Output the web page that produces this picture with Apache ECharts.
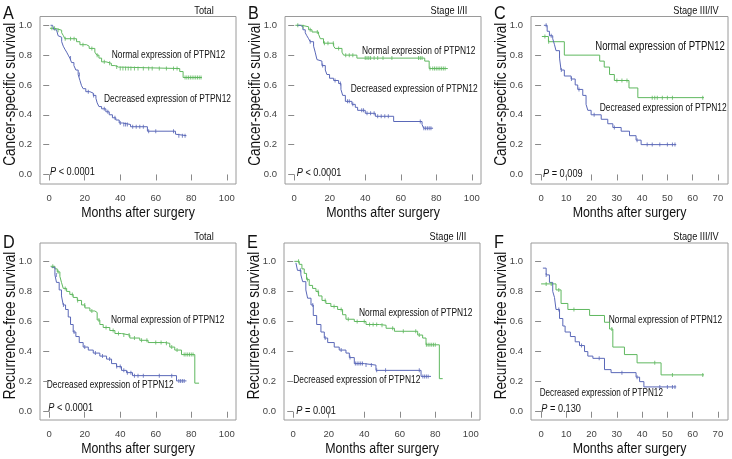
<!DOCTYPE html>
<html><head><meta charset="utf-8">
<script src="https://cdn.jsdelivr.net/npm/echarts@6/dist/echarts.min.js"></script>
<style>html,body{margin:0;padding:0;background:#fff}#c{width:732px;height:459px}</style>
</head><body><div id="c"></div>
<script>
// ---------- tick values ----------
const yTicks = [0, 0.2, 0.4, 0.6, 0.8, 1.0];
const xTicks100 = [0, 20, 40, 60, 80, 100];
const xTicks70 = [0, 10, 20, 30, 40, 50, 60, 70];

// ---------- labels ----------
const panelLetters = ['A', 'B', 'C', 'D', 'E', 'F'];
const panelTitles = ['Total', 'Stage I/II', 'Stage III/IV', 'Total', 'Stage I/II', 'Stage III/IV'];
const pValues = ['< 0.0001', '< 0.0001', '= 0.009', '< 0.0001', '= 0.001', '= 0.130'];
const yTitles = ['Cancer-specific survival', 'Cancer-specific survival', 'Cancer-specific survival',
  'Recurrence-free survival', 'Recurrence-free survival', 'Recurrence-free survival'];
const xTitle = 'Months after surgery';
const normalLabel = 'Normal expression of PTPN12';
const decreasedLabel = 'Decreased expression of PTPN12';

// ---------- survival steps [month, survival] ----------
const aNormal = [[0.4,0.98],[3.2,0.967],[7,0.95],[8,0.93],[8.8,0.91],[15.4,0.89],[17.3,0.87],[21,0.86],[22.5,0.845],[25.7,0.82],[26.8,0.80],[28,0.78],[29.5,0.755],[32,0.745],[35,0.73],[37,0.72],[39,0.71],[73.5,0.69],[75.4,0.65],[86,0.65]];
const aDecreased = [[0.75,1.0],[1.9,0.99],[2.6,0.97],[4.1,0.96],[5,0.93],[6,0.92],[7,0.89],[7.9,0.86],[8.8,0.84],[9.8,0.82],[10.7,0.80],[11.6,0.78],[12.6,0.75],[13.9,0.73],[15,0.70],[16.3,0.67],[17.3,0.63],[18.2,0.595],[19.1,0.575],[20.6,0.555],[22.9,0.545],[24.8,0.53],[26.3,0.51],[27,0.48],[28,0.455],[29.5,0.44],[31.9,0.42],[33.8,0.40],[35.6,0.38],[37.5,0.365],[39.4,0.345],[41.3,0.335],[45.8,0.32],[55.3,0.29],[71.1,0.27],[71.7,0.26],[77.3,0.26]];
const bNormal = [[0.6,1.0],[4.3,0.99],[8.1,0.97],[10,0.955],[13.7,0.94],[14.7,0.91],[16.5,0.88],[22.2,0.86],[23,0.845],[26.9,0.82],[27.8,0.80],[35.3,0.78],[73.5,0.76],[76,0.71],[86.5,0.71]];
const bDecreased = [[1.5,1.0],[3.4,0.99],[4.9,0.97],[6.2,0.95],[7.1,0.93],[8.1,0.91],[9,0.89],[10.9,0.86],[11.8,0.82],[12.8,0.77],[13.7,0.76],[15.6,0.73],[17.5,0.70],[18.4,0.67],[19.9,0.645],[22.2,0.63],[25,0.61],[26.3,0.57],[27.3,0.53],[28.8,0.49],[32.5,0.47],[34.4,0.45],[35.7,0.43],[40,0.41],[45.7,0.39],[56,0.355],[72,0.335],[72.9,0.31],[78.2,0.31]];
const cNormal = [[0.3,0.925],[2.9,0.89],[9.2,0.80],[23.2,0.76],[25,0.72],[27.1,0.67],[29,0.63],[34.8,0.58],[38.3,0.515],[64.5,0.515]];
const cDecreased = [[1.1,1.0],[2.4,0.96],[3.3,0.93],[4.6,0.91],[5.3,0.87],[5.9,0.83],[7.3,0.78],[7.9,0.70],[9.2,0.66],[11.9,0.64],[13.5,0.60],[14.5,0.57],[16.5,0.53],[17.8,0.47],[18.5,0.43],[19.8,0.40],[23.8,0.37],[26.4,0.34],[28.4,0.315],[31.7,0.29],[35,0.26],[37.6,0.23],[39.6,0.20],[53.5,0.20]];
const dNormal = [[0.75,0.967],[3.2,0.95],[4.5,0.93],[6,0.90],[6.9,0.86],[7.9,0.82],[9.8,0.80],[11.6,0.78],[13.5,0.76],[15.8,0.74],[18.2,0.71],[20.1,0.69],[22.9,0.67],[25.7,0.66],[27,0.61],[28.5,0.58],[30.4,0.56],[34.1,0.54],[37,0.52],[40.7,0.51],[45.4,0.49],[51,0.475],[55.7,0.46],[65.1,0.455],[67.9,0.43],[70.7,0.41],[74.5,0.38],[82,0.19],[84.4,0.19]];
const dDecreased = [[1.3,0.96],[3.2,0.91],[4.1,0.86],[5.6,0.81],[6.9,0.77],[7.9,0.71],[9.2,0.68],[10.7,0.63],[12,0.58],[13.5,0.53],[15,0.50],[16.9,0.46],[19.1,0.43],[22,0.41],[24.8,0.39],[28.5,0.37],[32.3,0.35],[35.1,0.32],[37.9,0.30],[40.7,0.275],[43.5,0.26],[46.9,0.24],[71.7,0.205],[77.3,0.205]];
const eNormal = [[0.6,1.0],[3.4,0.98],[4.9,0.95],[6.2,0.92],[7.5,0.88],[9,0.84],[10.9,0.82],[12.8,0.80],[14.3,0.77],[16.2,0.74],[18.4,0.72],[21.2,0.70],[25,0.68],[27.8,0.645],[29.7,0.615],[34.4,0.60],[41,0.58],[48.5,0.575],[52.3,0.555],[57,0.535],[70.1,0.51],[72.9,0.49],[74.8,0.445],[82.3,0.22],[84.2,0.22]];
const eDecreased = [[1.5,0.99],[2.4,0.94],[4.3,0.91],[5.3,0.865],[7.1,0.81],[8.1,0.755],[10,0.71],[11.3,0.64],[13.2,0.58],[15.6,0.53],[17.5,0.49],[19.4,0.46],[23.1,0.43],[25.9,0.41],[29.7,0.39],[31.6,0.36],[34.4,0.32],[40,0.31],[46.6,0.275],[72,0.235],[77.6,0.235]];
const fNormal = [[0,0.85],[5.9,0.81],[7.9,0.72],[10.6,0.68],[19.2,0.64],[25.1,0.595],[27.1,0.55],[28.4,0.43],[33,0.38],[38,0.325],[47.5,0.245],[64.5,0.245]];
const fDecreased = [[0.7,0.955],[2,0.91],[3.3,0.86],[4.6,0.80],[5.3,0.76],[5.9,0.68],[7.3,0.62],[8.6,0.57],[9.5,0.53],[11.6,0.50],[13.5,0.465],[15.2,0.44],[17.2,0.40],[18.5,0.37],[20.5,0.355],[25.1,0.28],[27.7,0.26],[37.6,0.23],[39,0.20],[40.7,0.165],[53.5,0.165]];

// ---------- censoring times (months) ----------
const aNormalCensor = [1.5,3,5,9,12,14,19,24,27,31,34,38,40,41.5,43,44.5,46,48,50,53,56,58,62,66,70,72,76.5,77.5,78.5,79.5,80.5,81.5,82.5,83.5,84.5,85.5];
const aDecreasedCensor = [12,17,22,25,31,33,37,40,42,43,44,47,49,51,53,56,60,70,73,75,76.5];
const bNormalCensor = [2,5,9,13,17,19,22,25,29,31,33,40,41,42,43,45,47,50,55,70,71,72,76.5,78,79,80,81,82,83,84,85];
const bDecreasedCensor = [9,16,23,26,30,31,33,38,39,41,43,45,47,49,51,53,71,73,74,75,76,77];
const cNormalCensor = [1.5,3,30,32,34,44,45,46,48,50,52,64];
const cDecreasedCensor = [2,4,8,12,15,21,29,38,42,44,47,50,52,53];
const dNormalCensor = [2,5,9,13,16,20,24,28,32,36,39,42,45,48,52,55,60,63,66,69,72,76,77,78,79,80,81];
const dDecreasedCensor = [4,8,14,20,26,30,34,38,40,42,44,46,48,50,53,62,69,73,74,75,76];
const eNormalCensor = [3,8,14,18,23,27,31,36,40,43,45,47,50,56,62,69,71,75,76,77,78,79,80];
const eDecreasedCensor = [4,11,18,27,32,35,36,37,38,39,41,44,47,52,71,73,74,75,76];
const fNormalCensor = [2,4,7,13,28,45,52,64];
const fDecreasedCensor = [2,7,16,23,32,38,47,50,52,53];

// ---------- styling / layout ----------
const GREEN = '#5fb85f', BLUE = '#5a68b8';
const SANS = '"Liberation Sans", Arial, Helvetica, sans-serif';
const NX = 0.8; // horizontal text condensing

const grids = [
  {left: 40,  top: 16.5, width: 196, height: 167.5},
  {left: 285, top: 16.5, width: 196, height: 167.5},
  {left: 531, top: 16.5, width: 197, height: 167.5},
  {left: 40,  top: 243, width: 196, height: 177},
  {left: 284, top: 243, width: 196, height: 177},
  {left: 531, top: 243, width: 197, height: 177}
];
const yRanges = [[-0.064,1.059],[-0.064,1.059],[-0.064,1.059],[-0.055,1.122],[-0.055,1.122],[-0.055,1.122]];
const xRanges = [[-5.2,105.2],[-5.2,105.2],[-4,74],[-5.2,105.2],[-5.2,105.2],[-4,74]];
const xTickSets = [xTicks100, xTicks100, xTicks70, xTicks100, xTicks100, xTicks70];

// absolute label positions and sizes
const normalPos = [[111.7,55],[362,50.7],[595.3,46.7],[111,319.7],[359,313.3],[608.7,319.7]];
const normalFont = [10.5, 10.5, 12, 10.5, 10.5, 10.5];
const decreasedPos = [[104,99.3],[350.7,89.3],[599.7,108.3],[46.7,385],[293.3,380],[539.7,393.3]];
const decreasedFont = [10.5, 10.5, 10.5, 10.5, 10.5, 10.2];
const pPos = [[50,172],[296.7,173],[543,174],[48.3,407.7],[296.3,410.7],[541.3,409]];
const letterTop = [5, 5, 5, 234, 234, 234];

const curves = [
  [aNormal, aDecreased, aNormalCensor, aDecreasedCensor],
  [bNormal, bDecreased, bNormalCensor, bDecreasedCensor],
  [cNormal, cDecreased, cNormalCensor, cDecreasedCensor],
  [dNormal, dDecreased, dNormalCensor, dDecreasedCensor],
  [eNormal, eDecreased, eNormalCensor, eDecreasedCensor],
  [fNormal, fDecreased, fNormalCensor, fDecreasedCensor]
];

function stepAt(curve, t) {
  let s = curve[0][1];
  for (const p of curve) { if (p[0] <= t) s = p[1]; else break; }
  return s;
}

const option = {
  animation: false,
  grid: [], xAxis: [], yAxis: [], series: [], graphic: []
};

grids.forEach((g, i) => {
  option.grid.push(Object.assign({show: true, borderColor: '#9a9a9a', borderWidth: 1, containLabel: false, backgroundColor: '#fff'}, g));
  option.xAxis.push({
    type: 'value', gridIndex: i, min: xRanges[i][0], max: xRanges[i][1],
    splitLine: {show: false}, axisLine: {show: false},
    axisTick: {show: true, inside: false, length: 6, lineStyle: {color: '#8a8a8a'}, customValues: xTickSets[i]},
    axisLabel: {show: true, margin: 9, color: '#444', fontSize: 9.5, fontFamily: SANS, customValues: xTickSets[i],
      formatter: v => String(v)}
  });
  option.yAxis.push({
    type: 'value', gridIndex: i, min: yRanges[i][0], max: yRanges[i][1],
    splitLine: {show: false}, axisLine: {show: false},
    axisTick: {show: true, inside: false, length: 6, lineStyle: {color: '#8a8a8a'}, customValues: yTicks},
    axisLabel: {show: true, margin: 8, color: '#444', fontSize: 9.5, fontFamily: SANS, customValues: yTicks,
      formatter: v => v.toFixed(1)}
  });
  const [nC, dC, nCen, dCen] = curves[i];
  [[nC, nCen, GREEN], [dC, dCen, BLUE]].forEach(([c, cen, col]) => {
    option.series.push({
      type: 'line', xAxisIndex: i, yAxisIndex: i, data: c, step: 'end', showSymbol: false,
      lineStyle: {color: col, width: 1}, silent: true, z: 2
    });
    option.series.push({
      type: 'scatter', xAxisIndex: i, yAxisIndex: i, data: cen.map(t => [t, stepAt(c, t)]),
      symbol: 'rect', symbolSize: [1, 4], itemStyle: {color: col}, silent: true, z: 3
    });
  });
  // texts
  const cx = g.left + g.width / 2;
  option.graphic.push(
    {type: 'text', x: g.left - 37, y: letterTop[i], scaleX: 0.9, style: {text: panelLetters[i], fontSize: 18, fontFamily: SANS, fill: '#111', verticalAlign: 'top'}},
    {type: 'text', x: g.left + g.width - 32, y: g.top - 6, scaleX: NX, style: {text: panelTitles[i], fontSize: 11.5, fontFamily: SANS, fill: '#111', align: 'center', verticalAlign: 'middle'}},
    {type: 'text', x: g.left - 30, y: g.top + g.height / 2 - 6, rotation: Math.PI / 2, scaleX: 0.82, style: {text: yTitles[i], fontSize: 16.5, fontFamily: SANS, fill: '#111', align: 'center', verticalAlign: 'middle'}},
    {type: 'text', x: cx, y: g.top + g.height + 29, scaleX: NX, style: {text: xTitle, fontSize: 15.5, fontFamily: SANS, fill: '#111', align: 'center', verticalAlign: 'middle'}},
    {type: 'text', x: normalPos[i][0], y: normalPos[i][1], scaleX: NX, style: {text: normalLabel, fontSize: normalFont[i], fontFamily: SANS, fill: '#111', verticalAlign: 'middle'}},
    {type: 'text', x: decreasedPos[i][0], y: decreasedPos[i][1], scaleX: NX, style: {text: decreasedLabel, fontSize: decreasedFont[i], fontFamily: SANS, fill: '#111', verticalAlign: 'middle'}},
    {type: 'text', x: pPos[i][0], y: pPos[i][1], scaleX: NX, style: {text: '{it|P} ' + pValues[i], fontSize: 11.5, fontFamily: SANS, fill: '#111', verticalAlign: 'middle',
      rich: {it: {fontStyle: 'italic', fontSize: 11.5, fontFamily: SANS, fill: '#111'}}}}
  );
});

const chart = echarts.init(document.getElementById('c'), null, {renderer: 'canvas'});
chart.setOption(option);
</script>
</body></html>
